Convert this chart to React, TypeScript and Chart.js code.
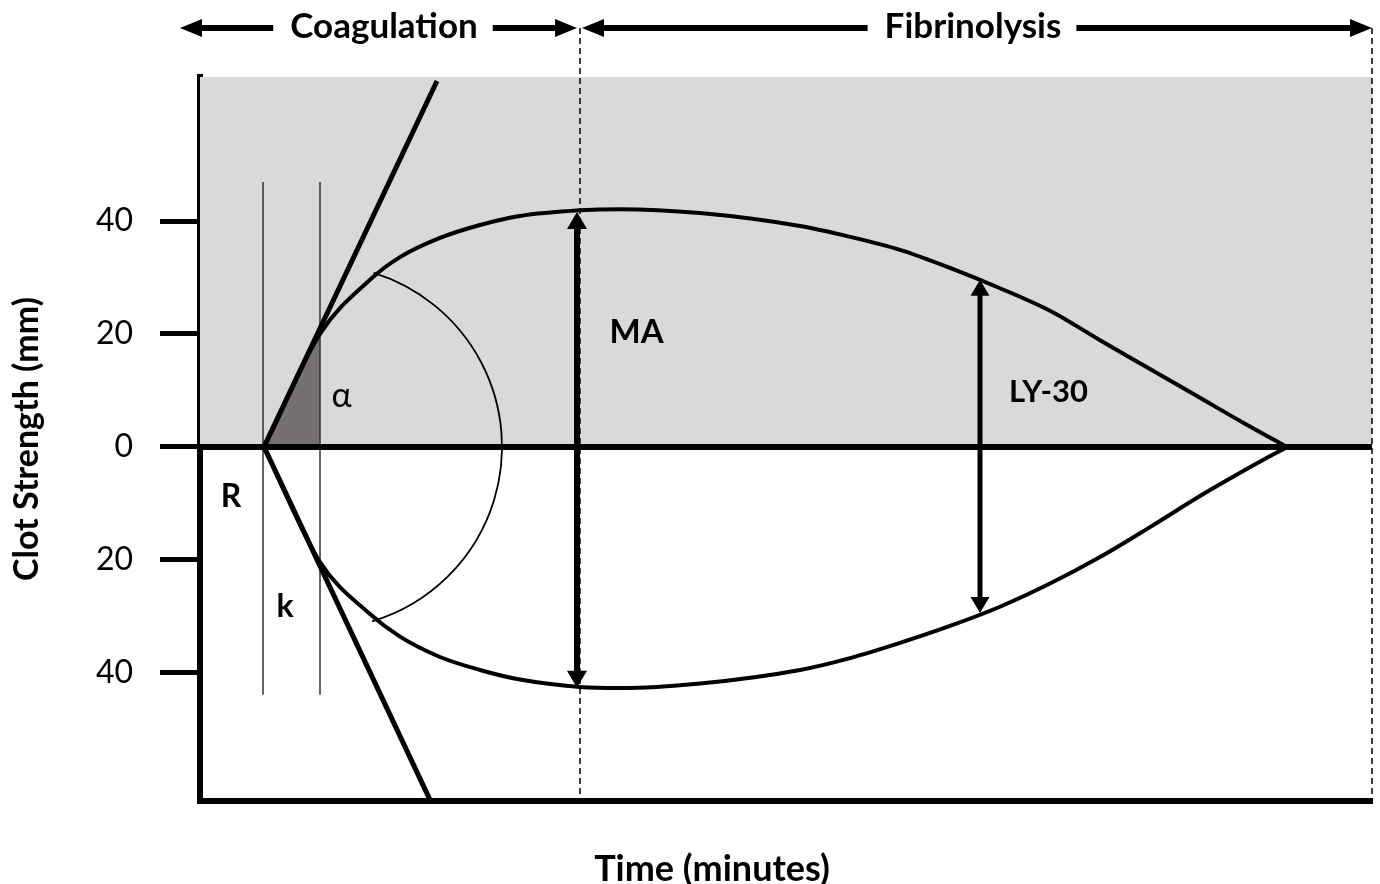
import React, { useEffect, useRef } from 'react';
import { Chart, registerables } from 'chart.js';

Chart.register(...registerables);

// ---- axis ranges & ticks ----
const X_MIN = 0;
const X_MAX = 117.2;
const Y_MIN = -62.7;
const Y_MAX = 65.5;
const yTickValues = [-40, -20, 0, 20, 40];

// ---- curves (time, clot strength) ----
const upperCurve: number[][] = [
  [6.4, 0], [12, 20], [17.2, 29.9], [20, 33.6], [24, 37], [28, 39.3], [32, 40.9],
  [38, 41.9], [42, 42.1], [50, 41.4], [60, 39.1], [65, 37.2], [70, 34.9], [75, 31.7],
  [80, 28.1], [85, 24.1], [90, 18.9], [95, 13.8], [100, 8.7], [104.5, 4.1], [108.7, 0],
];
const lowerCurve: number[][] = [
  [6.4, 0], [12, -20.4], [17, -29.6], [20, -33.6], [24, -37.2], [28, -39.5], [32, -41.2],
  [38, -42.5], [42, -42.7], [50, -41.9], [60, -39.5], [65, -37.4], [70, -34.7], [75, -31.7],
  [80, -28.3], [85, -24.2], [90, -19.5], [95, -14.2], [100, -8.7], [104.5, -4.1], [108.7, 0],
];
const tangentUp: number[][] = [[6.4, 0], [23.7, 64.8]];
const tangentDown: number[][] = [[6.4, 0], [23, -62.5]];
const rLine: number[][] = [[6.3, 46.9], [6.3, -43.9]];
const kLine: number[][] = [[12, 46.9], [12, -43.9]];
const alphaWedge: number[][] = [[6.4, 0], [12, 20]];
const zeroLine: number[][] = [[X_MIN, 0], [X_MAX, 0]];
const grayBand: number[][] = [[X_MIN, Y_MAX], [X_MAX, Y_MAX]];

// ---- annotations ----
const maArrow = [37.7, 41.6, -42.65]; // x, top, bottom
const lyArrow = [78, 29.6, -29.4];
const dashedX = [38, 117.2];
const arcCenter = [12, 0];
const arcRightX = 30.2;
const arcEnds: number[][] = [[17.2, 29.9], [17, -29.6]];
const phaseLabels = ['Coagulation', 'Fibrinolysis'];
const phaseFrom = [-2, 38.2];
const phaseTo = [37.7, 117.2];
const phaseCenter = [18.4, 77.3];
const textLabels = ['MA', 'LY-30', 'α', 'R', 'k'];
const textX = [43.65, 84.85, 14.15, 3.1, 8.5];
const textY = [18.4, 8.0, 7.1, -10.6, -30.1];
const textBold = [true, true, false, true, true];
const textSize = [33, 31, 34, 32, 32];
const xTitle = 'Time (minutes)';
const xTitleCenter = 51.2;
const yTitle = 'Clot Strength (mm)';

const FONT = 'Lato';

const toXY = (arr: number[][]) => arr.map(([x, y]) => ({ x, y }));

function arrowHead(ctx: CanvasRenderingContext2D, tx: number, ty: number, dx: number, dy: number, len: number, half: number) {
  const nx = -dy, ny = dx;
  ctx.beginPath();
  ctx.moveTo(tx, ty);
  ctx.lineTo(tx - dx * len + nx * half, ty - dy * len + ny * half);
  ctx.lineTo(tx - dx * len - nx * half, ty - dy * len - ny * half);
  ctx.closePath();
  ctx.fill();
}

const tegPlugin = {
  id: 'tegAnnotations',
  afterDatasetsDraw(chart: any) {
    const { ctx, scales, chartArea } = chart;
    const xs = scales.x, ys = scales.y;
    const px = (v: number) => xs.getPixelForValue(v);
    const py = (v: number) => ys.getPixelForValue(v);
    ctx.save();
    ctx.fillStyle = '#000';
    ctx.strokeStyle = '#000';

    // alpha arc
    const cx = px(arcCenter[0]);
    const cy = py(arcCenter[1]);
    const r = px(arcRightX) - cx;
    const a0 = Math.atan2(py(arcEnds[0][1]) - cy, px(arcEnds[0][0]) - cx);
    const a1 = Math.atan2(py(arcEnds[1][1]) - cy, px(arcEnds[1][0]) - cx);
    ctx.beginPath();
    ctx.arc(cx, cy, r, a0, a1);
    ctx.lineWidth = 1.8;
    ctx.stroke();

    // double-headed arrows
    const arrows = [[maArrow, 6, 17, 10], [lyArrow, 5, 16, 9.5]] as any[];
    for (const [a, w, hl, hw] of arrows) {
      const x = px(a[0]);
      const yt = py(a[1]);
      const yb = py(a[2]);
      ctx.lineWidth = w;
      ctx.beginPath();
      ctx.moveTo(x, yt + hl - 1);
      ctx.lineTo(x, yb - hl + 1);
      ctx.stroke();
      arrowHead(ctx, x, yt, 0, -1, hl, hw);
      arrowHead(ctx, x, yb, 0, 1, hl, hw);
    }

    // dashed vertical lines
    ctx.lineWidth = 1.5;
    ctx.setLineDash([6, 4]);
    for (const dx of dashedX) {
      const x = px(dx);
      ctx.beginPath();
      ctx.moveTo(x, chartArea.top - 49);
      ctx.lineTo(x, chartArea.bottom);
      ctx.stroke();
    }
    ctx.setLineDash([]);

    // text labels in plot
    ctx.textAlign = 'center';
    ctx.textBaseline = 'alphabetic';
    textLabels.forEach((t, i) => {
      ctx.font = `${textBold[i] ? 'bold ' : ''}${textSize[i]}px ${FONT}`;
      ctx.fillText(t, px(textX[i]), py(textY[i]));
    });

    // phase arrows on top
    const yTop = chartArea.top - 49;
    ctx.font = `bold 35px ${FONT}`;
    phaseLabels.forEach((label, i) => {
      const c = px(phaseCenter[i]);
      const w = ctx.measureText(label).width;
      ctx.fillText(label, c, chartArea.top - 39);
      const l = px(phaseFrom[i]);
      const rr = px(phaseTo[i]);
      ctx.lineWidth = 6;
      ctx.beginPath();
      ctx.moveTo(l + 20, yTop);
      ctx.lineTo(c - w / 2 - 17, yTop);
      ctx.moveTo(c + w / 2 + 15, yTop);
      ctx.lineTo(rr - 20, yTop);
      ctx.stroke();
      arrowHead(ctx, l, yTop, -1, 0, 22, 9);
      arrowHead(ctx, rr, yTop, 1, 0, 22, 9);
    });

    // x-axis title
    ctx.font = `bold 36px ${FONT}`;
    ctx.fillText(xTitle, px(xTitleCenter), chartArea.bottom + 80);
    ctx.restore();
  },
};

export default function App() {
  const ref = useRef<HTMLCanvasElement>(null);
  useEffect(() => {
    if (!ref.current) return;
    const line = (data: number[][], extra: any) => ({
      type: 'line',
      data: toXY(data),
      borderColor: '#000',
      borderWidth: 4,
      pointRadius: 0,
      fill: false,
      ...extra,
    });
    const chart = new Chart(ref.current, {
      type: 'line',
      data: {
        datasets: [
          line(grayBand, { borderWidth: 0, borderColor: 'rgba(0,0,0,0)', backgroundColor: '#d9d9d9', fill: 'origin', order: 20 }),
          line(alphaWedge, { borderWidth: 0, borderColor: 'rgba(0,0,0,0)', backgroundColor: '#767171', fill: { value: 0 }, order: 15 }),
          line(rLine, { borderWidth: 1.5, borderColor: '#333', order: 12 }),
          line(kLine, { borderWidth: 1.5, borderColor: '#333', order: 12 }),
          line(zeroLine, { borderWidth: 6, order: 10 }),
          line(upperCurve, { cubicInterpolationMode: 'monotone', order: 3 }),
          line(lowerCurve, { cubicInterpolationMode: 'monotone', order: 3 }),
          line(tangentUp, { borderWidth: 5, order: 2 }),
          line(tangentDown, { borderWidth: 5, order: 2 }),
        ] as any,
      },
      options: {
        responsive: false,
        animation: false,
        devicePixelRatio: 1,
        events: [],
        layout: { padding: { top: 77, right: 8, left: 0, bottom: 0 } },
        plugins: { legend: { display: false }, tooltip: { enabled: false } },
        scales: {
          x: {
            type: 'linear',
            min: X_MIN,
            max: X_MAX,
            ticks: { display: false },
            grid: { display: false },
            border: { display: true, width: 6, color: '#000' },
            afterFit: (s: any) => { s.height = 83; },
          },
          y: {
            type: 'linear',
            min: Y_MIN,
            max: Y_MAX,
            afterBuildTicks: (s: any) => { s.ticks = yTickValues.map((v) => ({ value: v })); },
            ticks: {
              callback: (v: any) => String(Math.abs(Number(v))),
              color: '#000',
              font: { family: FONT, size: 32 },
              padding: 27,
            },
            grid: { drawOnChartArea: false, drawTicks: true, tickLength: 40, tickWidth: 5, tickColor: '#000', color: '#000' },
            border: { display: true, width: 6, color: '#000' },
            title: {
              display: true,
              text: yTitle,
              color: '#000',
              font: { family: FONT, size: 34, weight: 'bold' },
              padding: { top: 7, bottom: 0 },
            },
            afterFit: (s: any) => { s.width = 200; },
          },
        },
      } as any,
      plugins: [tegPlugin],
    });
    return () => chart.destroy();
  }, []);
  return (
    <div style={{ position: 'fixed', left: 0, top: 0, width: 1380, height: 884, background: '#fff' }}>
      <canvas ref={ref} width={1380} height={884} style={{ display: 'block' }} />
    </div>
  );
}
